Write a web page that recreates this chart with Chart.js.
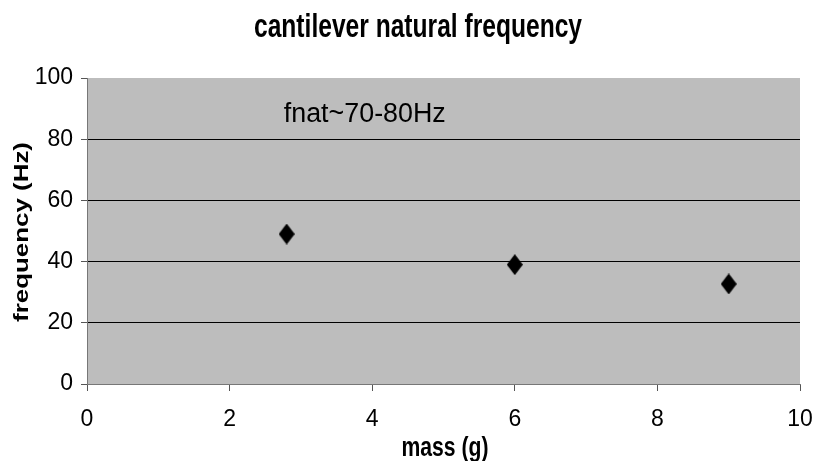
<!DOCTYPE html>
<html>
<head>
<meta charset="utf-8">
<script src="https://cdn.jsdelivr.net/npm/chart.js@4/dist/chart.umd.min.js"></script>
<style>
  html, body { margin: 0; padding: 0; background: #fff; }
  #wrap { width: 818px; height: 461px; }
</style>
</head>
<body>
<div id="wrap"><canvas id="freqchart" width="818" height="461"></canvas></div>
<script>
const massValues = [2.8, 6.0, 9.0];
const freqValues = [49, 39, 32.7];
const xTicks = [0, 2, 4, 6, 8, 10];
const yTicks = [0, 20, 40, 60, 80, 100];
const chartTitle = "cantilever natural frequency";
const xTitle = "mass (g)";
const yTitle = "frequency (Hz)";
const noteText = "fnat~70-80Hz";
const notePos = [2.76, 85.6];

const fontFam = "'Liberation Sans', Arial, sans-serif";

// diamond marker, a bit taller than wide like the original
function makeDiamond(w, h) {
  const c = document.createElement("canvas");
  c.width = w;
  c.height = h;
  const g = c.getContext("2d");
  g.fillStyle = "#000";
  g.beginPath();
  g.moveTo(w / 2, 0);
  g.lineTo(w, h / 2);
  g.lineTo(w / 2, h);
  g.lineTo(0, h / 2);
  g.closePath();
  g.fill();
  return c;
}

// text squeezed to a given width and stretched vertically (scanned look)
function fitText(ctx, text, font, cx, by, width, vStretch) {
  ctx.save();
  ctx.font = font;
  const w = ctx.measureText(text).width;
  ctx.translate(cx, by);
  ctx.scale(width / w, vStretch);
  ctx.textAlign = "center";
  ctx.textBaseline = "alphabetic";
  ctx.fillText(text, 0, 0);
  ctx.restore();
}

const decorPlugin = {
  id: "decor",
  beforeDraw(chart) {
    const { ctx, chartArea: a } = chart;
    ctx.save();
    ctx.fillStyle = "#bdbdbd";
    ctx.fillRect(a.left, a.top, a.right - a.left, a.bottom - a.top);
    ctx.restore();
  },
  afterDraw(chart) {
    const { ctx, scales } = chart;
    ctx.fillStyle = "#000";
    fitText(ctx, chartTitle, "bold 24px " + fontFam, 418, 37, 328, 1.35);
    fitText(ctx, xTitle, "bold 21px " + fontFam, 445, 456, 87, 1.35);

    // y title, rotated
    ctx.save();
    ctx.translate(28, 232);
    ctx.rotate(-Math.PI / 2);
    fitText(ctx, yTitle, "bold 21px " + fontFam, 0, 0, 180, 1);
    ctx.restore();

    const px = scales.x.getPixelForValue(notePos[0]);
    const py = scales.y.getPixelForValue(notePos[1]);
    ctx.save();
    ctx.font = "22px " + fontFam;
    const w = ctx.measureText(noteText).width;
    ctx.translate(px, py);
    ctx.scale(162 / w, 1.27);
    ctx.textAlign = "left";
    ctx.textBaseline = "alphabetic";
    ctx.fillText(noteText, 0, 0);
    ctx.restore();
  }
};

const config = {
  type: "scatter",
  data: {
    datasets: [
      {
        label: "freq",
        data: massValues.map((m, i) => ({ x: m, y: freqValues[i] })),
        pointStyle: makeDiamond(16, 21),
        pointRadius: 10,
        pointHoverRadius: 10,
        backgroundColor: "#000",
        borderColor: "#000",
      },
    ],
  },
  options: {
    responsive: false,
    animation: false,
    layout: { padding: { top: 78, right: 18, left: 0, bottom: 0 } },
    plugins: {
      legend: { display: false },
      tooltip: { enabled: false },
      title: { display: false },
    },
    scales: {
      x: {
        type: "linear",
        min: 0,
        max: 10,
        afterBuildTicks: (s) => { s.ticks = xTicks.map((v) => ({ value: v })); },
        afterFit: (s) => { s.height = 77; s.paddingLeft = 0; s.paddingRight = 0; },
        grid: { drawOnChartArea: false, drawTicks: true, tickLength: 7, tickColor: "#555" },
        border: { display: true, color: "#777", width: 1 },
        ticks: { color: "#000", font: { family: fontFam, size: 23 }, padding: 15 },
      },
      y: {
        type: "linear",
        min: 0,
        max: 100,
        afterBuildTicks: (s) => { s.ticks = yTicks.map((v) => ({ value: v })); },
        afterFit: (s) => { s.width = 87; s.paddingTop = 0; s.paddingBottom = 0; },
        grid: {
          color: (c) => (c.tick && (c.tick.value === 0 || c.tick.value === 100) ? "rgba(0,0,0,0)" : "#000"),
          lineWidth: 1,
          drawTicks: true,
          tickLength: 6,
          tickColor: "#555",
        },
        border: { display: true, color: "#777", width: 1 },
        ticks: { color: "#000", font: { family: fontFam, size: 23 }, padding: 8 },
      },
    },
  },
  plugins: [decorPlugin],
};

document.addEventListener("DOMContentLoaded", function () {
  const ctx = document.getElementById("freqchart");
  new Chart(ctx, config);
});
</script>
</body>
</html>
